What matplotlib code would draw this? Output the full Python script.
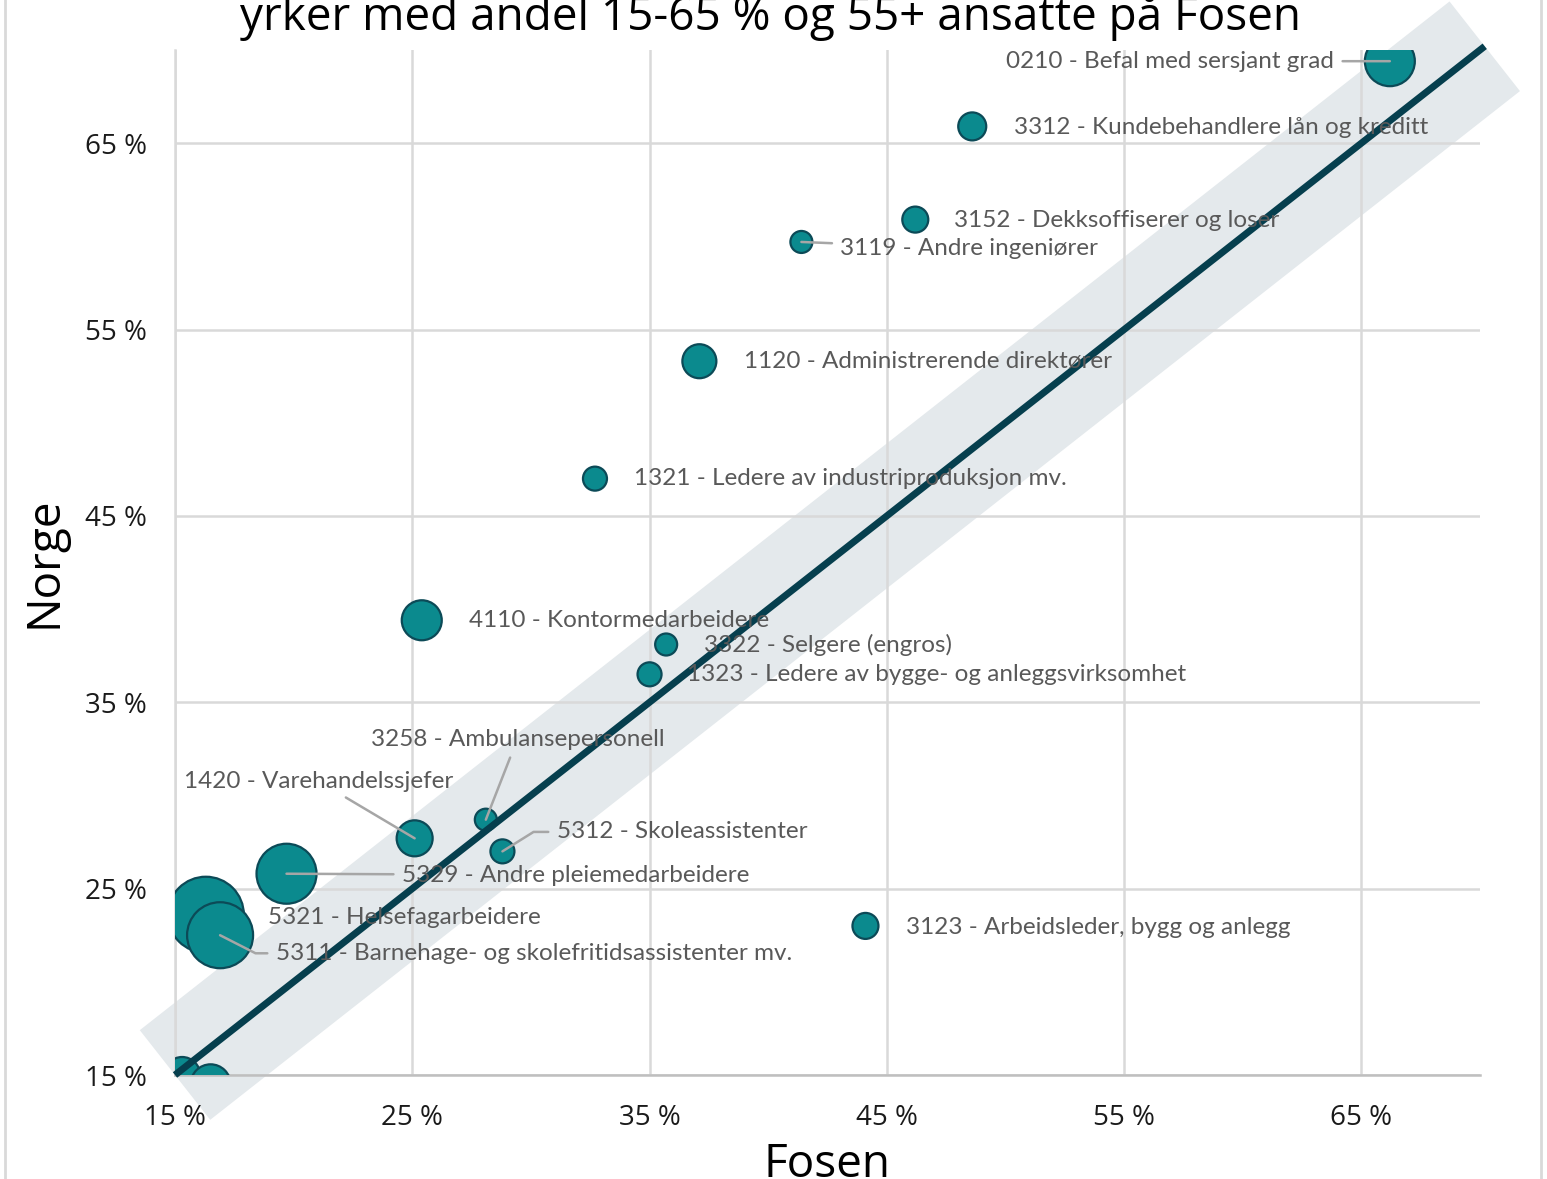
import matplotlib
matplotlib.use("Agg")
import matplotlib.pyplot as plt
from matplotlib.patches import Polygon
from matplotlib.lines import Line2D
from matplotlib.transforms import IdentityTransform

# yrke, andel 55+ (%) på Fosen og i Norge, boblestørrelse
yrker = [
    "0210 - Befal med sersjant grad",
    "3312 - Kundebehandlere lån og kreditt",
    "3152 - Dekksoffiserer og loser",
    "3119 - Andre ingeniører",
    "1120 - Administrerende direktører",
    "1321 - Ledere av industriproduksjon mv.",
    "4110 - Kontormedarbeidere",
    "3322 - Selgere (engros)",
    "1323 - Ledere av bygge- og anleggsvirksomhet",
    "3258 - Ambulansepersonell",
    "1420 - Varehandelssjefer",
    "5312 - Skoleassistenter",
    "5329 - Andre pleiemedarbeidere",
    "5321 - Helsefagarbeidere",
    "5311 - Barnehage- og skolefritidsassistenter mv.",
    "3123 - Arbeidsleder, bygg og anlegg",
    "",
    "",
]
fosen = [66.2, 48.6, 46.2, 41.4, 37.1, 32.7, 25.4, 35.7, 35.0,
         28.1, 25.1, 28.8, 19.7, 16.3, 16.9, 44.1, 15.3, 16.5]
norge = [69.4, 65.9, 60.9, 59.7, 53.3, 47.0, 39.4, 38.1, 36.5,
         28.7, 27.7, 27.0, 25.8, 23.6, 22.5, 23.0, 15.0, 14.5]
storrelse = [50, 28, 26, 22, 34, 24, 40, 22, 24,
             22, 36, 24, 60, 76, 66, 26, 36, 40]

# etikettplassering (dx, dy i punkter fra boblen), justering,
# ledelinje (None = ingen, ellers vinkel inn mot boblen)
etiketter = [
    ((-40, 0), "right", 0),
    ((30, -1), "left", None),
    ((28, -1), "left", None),
    ((28, -5), "left", 0),
    ((32, 0), "left", None),
    ((28, 0), "left", None),
    ((34, 0), "left", None),
    ((27, 0), "left", None),
    ((27, 0), "left", None),
    ((-83, 58), "left", 0),
    ((-166, 41), "left", 0),
    ((39, 14), "left", 32),
    ((83, -1), "left", 0),
    ((45, -2), "left", None),
    ((40, -13), "left", -27),
    ((29, -1), "left", None),
    ((0, 0), "left", None),
    ((0, 0), "left", None),
]

boble = "#0B8A8E"
kant = "#0C4A57"
grå = "#A6A6A6"
tekst = "#595959"

fig = plt.figure(figsize=(15.47, 11.79), dpi=100)
ax = fig.add_axes([175 / 1547, 104 / 1179, 1305 / 1547, 1025 / 1179])
ax.set_xlim(15, 70)
ax.set_ylim(15, 70)

ticks = [15, 25, 35, 45, 55, 65]
ax.set_xticks(ticks)
ax.set_yticks(ticks)
ax.set_xticklabels([f"{t} %" for t in ticks])
ax.set_yticklabels([f"{t} %" for t in ticks])
ax.tick_params(length=0, labelsize=20, colors="#1a1a1a")
ax.tick_params(axis="x", pad=21)
ax.tick_params(axis="y", pad=20)
for lab in ax.get_xticklabels() + ax.get_yticklabels():
    lab.set_family("Open Sans")
ax.grid(True, color="#D9D9D9", linewidth=1.8)
ax.set_axisbelow(True)
for s in ["top", "right"]:
    ax.spines[s].set_visible(False)
ax.spines["left"].set_color("#D9D9D9")
ax.spines["left"].set_linewidth(1.8)
ax.spines["bottom"].set_color("#BFBFBF")
ax.spines["bottom"].set_linewidth(1.8)

# diagonal med bånd rundt
x0, x1 = 15, 70.2
halv = 57  # halv båndbredde i piksler
p0 = ax.transData.transform((x0, x0))
p1 = ax.transData.transform((x1, x1))
d = (p1 - p0) / ((p1 - p0) ** 2).sum() ** 0.5
n = [-d[1], d[0]]
hjørner = [(p0[0] + n[0] * halv, p0[1] + n[1] * halv),
           (p1[0] + n[0] * halv, p1[1] + n[1] * halv),
           (p1[0] - n[0] * halv, p1[1] - n[1] * halv),
           (p0[0] - n[0] * halv, p0[1] - n[1] * halv)]
band = Polygon(hjørner, closed=True, facecolor="#E4E9EC",
               edgecolor="none", zorder=0.3, clip_on=False)
ax.add_patch(band)
band.set_transform(IdentityTransform())

ax.scatter(fosen, norge, s=[(d_ * 72 / 100) ** 2 for d_ in storrelse],
           color=boble, edgecolor=kant, linewidth=1.6, zorder=3)
ax.plot([x0, x1], [x0, x1], color="#063F4E", linewidth=5, zorder=4,
        clip_on=False, solid_capstyle="butt")

for navn, x, y, (off, ha, linje) in zip(yrker, fosen, norge, etiketter):
    if not navn:
        continue
    pil = None
    if linje is not None:
        stil = f"angle,angleA=0,angleB={linje},rad=0" if linje else "arc3"
        pil = dict(arrowstyle="-", color=grå, lw=1.8, shrinkA=4, shrinkB=0,
                   connectionstyle=stil)
    ax.annotate(navn, (x, y), xytext=off, textcoords="offset points",
                ha=ha, va="center", fontsize=17.5, color=tekst,
                family="Lato", zorder=5, arrowprops=pil)

ax.set_xlabel("Fosen", fontsize=33, family="Open Sans")
ax.set_ylabel("Norge", fontsize=33, family="Open Sans")
ax.xaxis.set_label_coords(0.5, -0.065)
ax.yaxis.set_label_coords(-0.082, 0.5)

fig.text(0.498, 0.986, "yrker med andel 15-65 % og 55+ ansatte på Fosen",
         ha="center", va="center", fontsize=33, family="Open Sans")

# ramme rundt diagrammet
for xpos in (5 / 1547, 1541 / 1547):
    fig.add_artist(Line2D([xpos, xpos], [0, 1], color="#D9D9D9", lw=2,
                          transform=fig.transFigure))

fig.savefig("out.png", dpi=100)
